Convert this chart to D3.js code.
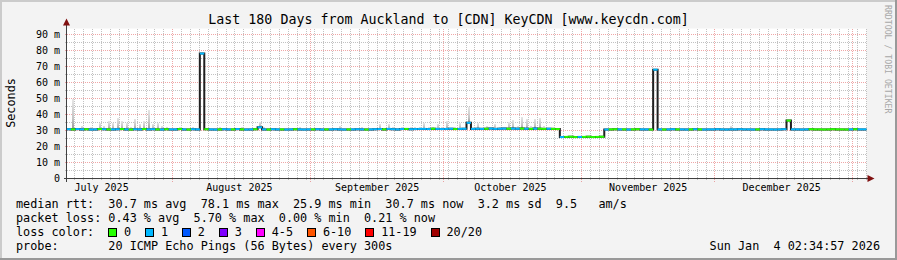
<!DOCTYPE html>
<html>
<head>
<meta charset="utf-8">
<script src="https://cdn.jsdelivr.net/npm/d3@7"></script>
<style>
  body { margin: 0; background: #f3f3f3; }
  svg { display: block; font-family: "DejaVu Sans Mono", monospace; }
</style>
</head>
<body>
<script>
// ---- data ----
const titleText = "Last 180 Days from Auckland to [CDN] KeyCDN [www.keycdn.com]"
const startTime = new Date(2025, 6, 8, 2, 34, 57)
const endTime = new Date(2026, 0, 4, 2, 34, 57)

const yTicks = [0, 10, 20, 30, 40, 50, 60, 70, 80, 90]
const yTickLabels = ["0", "10 m", "20 m", "30 m", "40 m", "50 m", "60 m", "70 m", "80 m", "90 m"]
const yMinorTicks = [5, 15, 25, 35, 45, 55, 65, 75, 85]

// one value per day, ms
const median = [
  30.8,30.7,30.9,30.7,30.8,30.6,30.7,30.9,30.8,30.7,
  30.7,30.8,30.9,30.7,30.6,30.8,30.7,30.9,30.7,30.8,
  30.7,30.6,30.8,30.7,30.7,30.9,30.7,30.6,30.8,30.7,
  78.1,30.8,30.7,30.6,30.7,30.8,30.7,30.7,30.9,30.7,
  30.6,30.7,30.8,32.0,30.7,30.6,30.8,30.7,30.7,30.6,
  30.7,30.8,30.7,30.6,30.7,30.7,30.8,30.6,30.7,30.7,
  30.8,30.7,30.6,30.7,30.7,30.8,30.7,30.6,30.7,30.8,
  30.9,30.7,31.0,30.8,30.7,30.9,31.0,30.8,30.9,31.0,
  31.0,30.9,31.1,31.0,30.9,31.0,31.1,30.9,31.0,31.1,
  34.8,31.0,31.1,31.0,31.1,31.2,31.0,31.1,31.2,31.1,
  31.2,31.1,31.2,31.1,31.0,31.2,31.1,31.0,31.1,31.0,
  30.9,25.9,26.0,26.1,25.9,26.0,26.0,26.1,25.9,26.0,
  26.1,30.6,30.7,30.8,30.7,30.7,30.6,30.7,30.8,30.7,
  30.7,30.6,68.0,30.7,30.6,30.7,30.8,30.7,30.7,30.6,
  30.7,30.8,30.7,30.6,30.7,30.7,30.8,30.7,30.6,30.7,
  30.7,30.8,30.7,30.7,30.6,30.7,30.8,30.7,30.7,30.6,
  30.7,30.8,36.2,30.7,30.7,30.6,30.7,30.8,30.7,30.7,
  30.6,30.7,30.8,30.7,30.7,30.6,30.7,30.8,30.7,30.7
]

// lost pings per day -> index into lossColors
const loss = [
  1,0,1,1,0,1,1,0,1,0,
  1,1,0,1,0,1,1,0,1,1,
  0,1,0,1,1,0,1,0,1,1,
  1,0,1,1,0,1,1,0,1,0,
  1,1,0,1,1,0,1,1,0,1,
  1,0,1,1,1,0,1,1,0,1,
  1,1,1,0,1,1,1,0,1,1,
  1,0,1,1,1,1,0,1,1,1,
  1,1,0,1,1,1,1,0,1,1,
  1,1,1,1,0,1,1,1,1,0,
  1,1,0,1,0,1,0,0,1,0,
  0,1,0,0,0,1,0,0,0,0,
  0,1,0,0,1,0,1,0,0,1,
  1,0,1,1,0,1,1,0,1,1,
  0,1,0,1,1,1,1,1,1,1,
  1,1,1,1,1,0,1,1,1,1,
  1,1,0,1,1,1,1,0,0,0,
  0,0,0,0,0,0,1,0,1,1
]

// highest ping of the day (top of the smoke), ms
const smokeTop = [
  31.5,50.0,31.5,33.0,31.5,32.0,31.5,35.0,33.0,36.0,
  35.0,38.0,36.0,35.0,32.0,37.0,34.0,36.0,43.0,34.0,
  35.0,33.0,32.0,31.5,31.5,32.0,31.5,31.5,32.0,31.5,
  31.5,31.5,31.5,31.5,32.0,31.5,31.5,31.5,31.5,32.0,
  31.5,31.5,31.5,35.5,32.0,31.5,31.5,31.5,31.5,31.5,
  31.5,31.5,32.0,31.5,31.5,31.5,31.5,31.5,31.5,31.5,
  31.5,33.0,31.5,31.5,31.5,31.5,32.0,31.5,31.5,31.5,
  34.0,31.5,34.0,32.0,31.5,32.0,31.5,32.0,32.0,32.5,
  34.5,32.0,32.5,34.0,32.0,36.0,32.0,32.5,34.5,32.0,
  45.0,32.0,34.5,32.5,33.0,32.0,34.0,32.5,32.0,35.5,
  36.5,33.0,38.5,37.0,33.0,37.5,38.0,33.0,32.0,32.0,
  31.5,26.5,26.5,26.5,26.5,26.5,26.5,26.5,26.5,26.5,
  26.5,31.5,31.5,31.5,31.5,31.5,31.5,31.5,31.5,31.5,
  31.5,31.5,68.5,31.5,31.5,31.5,31.5,31.5,31.5,31.5,
  31.5,31.5,31.5,31.5,31.5,31.5,31.5,31.5,31.5,33.0,
  31.5,31.5,31.5,31.5,31.5,31.5,31.5,31.5,31.5,31.5,
  31.5,31.5,36.5,31.5,31.5,31.5,31.5,31.5,31.5,31.5,
  31.5,31.5,31.5,31.5,31.5,31.5,31.5,31.5,31.5,31.5
]

const lossLabels = ["0", "1", "2", "3", "4-5", "6-10", "11-19", "20/20"]
const lossColors = ["#26ff00", "#00b8ff", "#0059ff", "#7e00ff", "#ff00ff", "#ff5500", "#ff0000", "#a00000"]

const legendLines = [
  "median rtt:  30.7 ms avg  78.1 ms max  25.9 ms min  30.7 ms now  3.2 ms sd  9.5   am/s",
  "packet loss: 0.43 % avg  5.70 % max  0.00 % min  0.21 % now",
  "loss color:",
  "probe:       20 ICMP Echo Pings (56 Bytes) every 300s"
]
const stamp = "Sun Jan  4 02:34:57 2026"
const watermark = "RRDTOOL / TOBI OETIKER"

// ---- layout ----
const W = 897, H = 260
const plot = {left: 66.5, right: 866.5, top: 28.5, bottom: 178.5}
const fontLegend = 11.8
const charW = fontLegend * 0.602

const svg = d3.select("body").append("svg")
    .attr("width", W)
    .attr("height", H)

svg.append("rect").attr("width", W).attr("height", H).attr("fill", "#f3f3f3")
// 3d frame
svg.append("path").attr("d", "M0,1H896M1,0V259").attr("stroke", "#cbcbcb").attr("stroke-width", 2)
svg.append("path").attr("d", "M0,259H897M896,0V260").attr("stroke", "#999").attr("stroke-width", 2)

const xScale = d3.scaleTime().domain([startTime, endTime]).range([plot.left, plot.right])
const yScale = d3.scaleLinear().domain([0, 93.75]).range([plot.bottom, plot.top])
const crisp = v => Math.round(v - 0.5) + 0.5

svg.append("rect")
    .attr("x", plot.left).attr("y", plot.top)
    .attr("width", plot.right - plot.left).attr("height", plot.bottom - plot.top)
    .attr("fill", "#fff")

const days = d3.range(median.length).map(i => d3.timeDay.offset(startTime, i))
days.push(endTime)

// grid
const grid = svg.append("g").attr("shape-rendering", "crispEdges")
const epoch = new Date(1970, 0, 1)
const minorDays = d3.timeDay.range(startTime, endTime)
    .filter(d => d3.timeDay.count(epoch, d) % 2 === 1 && d.getDate() !== 1)
const months = d3.timeMonth.range(startTime, endTime)

grid.selectAll(".vminor").data(minorDays).enter().append("line")
    .attr("x1", d => crisp(xScale(d))).attr("x2", d => crisp(xScale(d)))
    .attr("y1", plot.top).attr("y2", plot.bottom + 2)
    .attr("stroke", "rgba(143,143,143,0.55)").attr("stroke-dasharray", "1,1")

grid.selectAll(".hminor").data(yMinorTicks).enter().append("line")
    .attr("x1", plot.left - 2).attr("x2", plot.right)
    .attr("y1", d => crisp(yScale(d))).attr("y2", d => crisp(yScale(d)))
    .attr("stroke", "rgba(143,143,143,0.55)").attr("stroke-dasharray", "1,1")

grid.selectAll(".vmajor").data(months).enter().append("line")
    .attr("x1", d => crisp(xScale(d))).attr("x2", d => crisp(xScale(d)))
    .attr("y1", plot.top).attr("y2", plot.bottom + 3)
    .attr("stroke", "rgba(224,80,80,0.5)").attr("stroke-dasharray", "1,1")

grid.selectAll(".hmajor").data(yTicks.slice(1)).enter().append("line")
    .attr("x1", plot.left - 2).attr("x2", plot.right)
    .attr("y1", d => crisp(yScale(d))).attr("y2", d => crisp(yScale(d)))
    .attr("stroke", "rgba(224,80,80,0.5)").attr("stroke-dasharray", "1,1")

// smoke: grey spike from the median up to the day's highest ping
const defs = svg.append("defs")
const grad = defs.append("linearGradient").attr("id", "smoke")
    .attr("x1", 0).attr("y1", 1).attr("x2", 0).attr("y2", 0)
grad.append("stop").attr("offset", 0).attr("stop-color", "#9a9a9a")
grad.append("stop").attr("offset", 0.35).attr("stop-color", "#c4c4c4")
grad.append("stop").attr("offset", 1).attr("stop-color", "#e6e6e6")

const smokeG = svg.append("g").attr("shape-rendering", "crispEdges")
smokeTop.forEach(function(top, i) {
    if (top - median[i] < 0.9) return
    const x0 = xScale(days[i]), x1 = xScale(days[i + 1])
    smokeG.append("rect")
        .attr("x", Math.round((x0 + x1) / 2 - 1))
        .attr("width", 2)
        .attr("y", Math.round(yScale(top)))
        .attr("height", Math.round(yScale(median[i])) - Math.round(yScale(top)))
        .attr("fill", "url(#smoke)")
})

// median: dark step line underneath, loss coloured steps on top
const pts = median.map((m, i) => [days[i], m])
pts.push([endTime, median[median.length - 1]])
const line = d3.line()
    .curve(d3.curveStepAfter)
    .x(d => xScale(d[0]))
    .y(d => yScale(d[1]))

svg.append("path")
    .attr("d", line(pts))
    .attr("fill", "none")
    .attr("stroke", "#202020")
    .attr("stroke-width", 2)

svg.append("g").selectAll("line").data(median).enter().append("line")
    .attr("x1", (d, i) => xScale(days[i]))
    .attr("x2", (d, i) => xScale(days[i + 1]))
    .attr("y1", d => yScale(d))
    .attr("y2", d => yScale(d))
    .attr("stroke", (d, i) => lossColors[loss[i]])
    .attr("stroke-width", 2)

// axes
const axisG = svg.append("g").attr("shape-rendering", "crispEdges")
axisG.append("line")
    .attr("x1", plot.left - 3).attr("x2", plot.right + 3)
    .attr("y1", plot.bottom).attr("y2", plot.bottom)
    .attr("stroke", "#404040")
axisG.append("line")
    .attr("x1", plot.left).attr("x2", plot.left)
    .attr("y1", plot.bottom + 3).attr("y2", plot.top - 4)
    .attr("stroke", "#404040")
svg.append("path")
    .attr("d", "M" + (plot.right + 1) + "," + (plot.bottom - 3.5) + "l7,3.5l-7,3.5z")
    .attr("fill", "#801010")
svg.append("path")
    .attr("d", "M" + (plot.left - 3.5) + "," + (plot.top - 3) + "l3.5,-7l3.5,7z")
    .attr("fill", "#801010")

// y labels
svg.append("g").selectAll("text").data(yTicks).enter().append("text")
    .attr("x", 60)
    .attr("y", d => yScale(d))
    .attr("dy", "0.36em")
    .attr("text-anchor", "end")
    .attr("font-size", 10)
    .text((d, i) => yTickLabels[i])

// x labels, centred half a month in
svg.append("g").selectAll("text").data(d3.timeMonth.range(d3.timeMonth.floor(startTime), endTime)
        .filter(d => d3.timeDay.offset(d, 15) < endTime)).enter().append("text")
    .attr("x", d => xScale(d3.timeDay.offset(d, 15)))
    .attr("y", 191)
    .attr("text-anchor", "middle")
    .attr("font-size", 10)
    .text(d => d3.timeFormat("%B %Y")(d))

// title
svg.append("text")
    .attr("x", W / 2).attr("y", 24)
    .attr("text-anchor", "middle")
    .attr("font-size", 13.3)
    .text(titleText)

svg.append("text")
    .attr("transform", "translate(15,103) rotate(-90)")
    .attr("text-anchor", "middle")
    .attr("font-size", fontLegend)
    .text("Seconds")

svg.append("text")
    .attr("transform", "translate(885,5) rotate(90)")
    .attr("font-size", 8.2)
    .attr("fill", "#a8a8a8")
    .text(watermark)

// legend
const legendY = [208, 222, 236, 250]
svg.append("g").selectAll("text").data(legendLines).enter().append("text")
    .attr("x", 16)
    .attr("y", (d, i) => legendY[i])
    .attr("font-size", fontLegend)
    .style("white-space", "pre")
    .text(d => d)

let lx = 16 + 13 * charW
lossLabels.forEach(function(lab, i) {
    svg.append("rect")
        .attr("x", Math.round(lx) + 0.5).attr("y", 228.5)
        .attr("width", 8).attr("height", 8)
        .attr("fill", lossColors[i])
        .attr("stroke", "#000")
    svg.append("text")
        .attr("x", lx + 2.2 * charW).attr("y", 236)
        .attr("font-size", fontLegend)
        .text(lab)
    lx = lx + 2.2 * charW + (lab.length + 2) * charW
})

svg.append("text")
    .attr("x", 880).attr("y", 250)
    .attr("text-anchor", "end")
    .attr("font-size", fontLegend)
    .style("white-space", "pre")
    .text(stamp)
</script>
</body>
</html>
